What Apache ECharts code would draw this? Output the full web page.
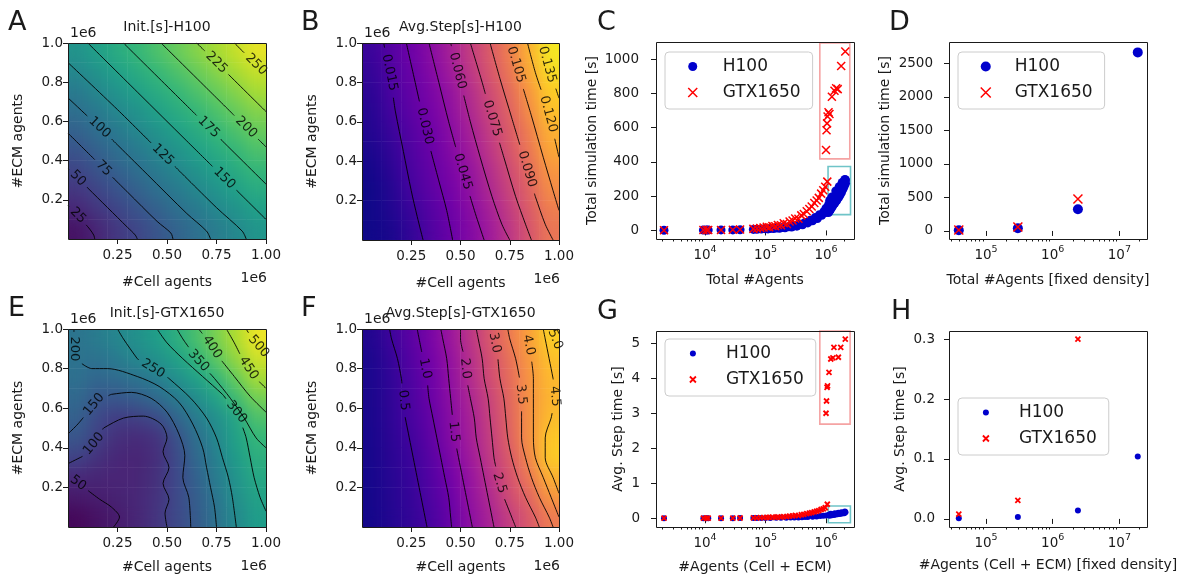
<!DOCTYPE html>
<html>
<head>
<meta charset="utf-8">
<title>H100 vs GTX1650 scaling</title>
<script src="https://cdn.jsdelivr.net/npm/echarts@6.0.0/dist/echarts.min.js"></script>
<style>
  html, body { margin: 0; padding: 0; background: #fff; }
  #page { position: relative; width: 1187px; height: 579px; }
  #fig { position: absolute; left: 0; top: 0; width: 1187px; height: 579px; z-index: 2; }
  .heat { position: absolute; z-index: 1; filter: url(#smooth); }
</style>
</head>
<body>
<!-- soften the 10x10 cells the way imshow's interpolation does -->
<svg width="0" height="0" style="position:absolute">
  <filter id="smooth" x="0" y="0" width="100%" height="100%" color-interpolation-filters="sRGB">
    <feGaussianBlur in="SourceGraphic" stdDeviation="8" result="blur"/>
    <feComponentTransfer in="blur" result="solid"><feFuncA type="linear" slope="1000"/></feComponentTransfer>
    <feComposite in="solid" in2="SourceGraphic" operator="in"/>
  </filter>
</svg>
<div id="page"><div id="fig"></div></div>
<script>
// ---------- values ----------

// heat maps: 10 x 10 cells (centres 0.05 .. 0.95 x1e6), rows from ECM 0.95e6 (top) down to 0.05e6
var initH100 = [
  [137, 151, 164, 178, 191, 205, 218, 232, 245, 259],
  [124, 137, 151, 164, 178, 191, 205, 218, 232, 245],
  [110, 124, 137, 151, 164, 178, 191, 205, 218, 232],
  [97, 110, 124, 137, 151, 164, 178, 191, 205, 218],
  [83, 97, 110, 124, 137, 151, 164, 178, 191, 205],
  [70, 83, 97, 110, 124, 137, 151, 164, 178, 191],
  [56, 70, 83, 97, 110, 124, 137, 151, 164, 178],
  [43, 56, 70, 83, 97, 110, 124, 137, 151, 164],
  [29, 43, 56, 70, 83, 97, 110, 124, 137, 151],
  [14, 28, 44, 57, 71, 85, 98, 112, 125, 139]
];
var stepH100 = [
  [0.013, 0.022, 0.031, 0.041, 0.054, 0.069, 0.084, 0.101, 0.122, 0.142],
  [0.011, 0.020, 0.029, 0.039, 0.051, 0.066, 0.081, 0.097, 0.118, 0.138],
  [0.009, 0.018, 0.027, 0.036, 0.046, 0.061, 0.076, 0.092, 0.111, 0.132],
  [0.007, 0.016, 0.025, 0.034, 0.044, 0.058, 0.073, 0.088, 0.107, 0.128],
  [0.006, 0.013, 0.022, 0.031, 0.041, 0.054, 0.069, 0.084, 0.101, 0.122],
  [0.004, 0.011, 0.020, 0.029, 0.039, 0.051, 0.066, 0.081, 0.097, 0.118],
  [0.002, 0.009, 0.018, 0.027, 0.036, 0.046, 0.061, 0.076, 0.092, 0.111],
  [0.001, 0.007, 0.016, 0.025, 0.034, 0.044, 0.058, 0.073, 0.088, 0.107],
  [0.001, 0.006, 0.013, 0.022, 0.031, 0.041, 0.054, 0.069, 0.084, 0.101],
  [0.001, 0.004, 0.011, 0.020, 0.029, 0.039, 0.051, 0.066, 0.081, 0.097]
];
var initGTX = [
  [205, 222, 245, 268, 295, 330, 372, 418, 462, 512],
  [203, 200, 222, 247, 268, 300, 345, 392, 440, 488],
  [195, 176, 186, 205, 228, 262, 300, 348, 402, 455],
  [180, 146, 146, 160, 185, 218, 258, 302, 362, 415],
  [165, 120, 100, 104, 125, 172, 220, 262, 310, 378],
  [145, 104, 76, 68, 82, 136, 195, 246, 300, 352],
  [110, 80, 62, 58, 75, 125, 180, 232, 290, 332],
  [65, 60, 58, 60, 78, 120, 168, 220, 272, 316],
  [42, 48, 55, 62, 82, 120, 160, 210, 262, 304],
  [15, 30, 45, 60, 85, 120, 155, 200, 250, 292]
];
var stepGTX = [
  [0.20, 0.50, 0.86, 1.25, 1.72, 2.28, 2.88, 3.50, 4.06, 4.70],
  [0.15, 0.42, 0.77, 1.17, 1.61, 2.17, 2.75, 3.33, 3.94, 4.50],
  [0.14, 0.38, 0.69, 1.09, 1.56, 2.11, 2.69, 3.25, 3.86, 4.40],
  [0.13, 0.36, 0.65, 1.05, 1.50, 2.00, 2.56, 3.17, 3.83, 4.36],
  [0.12, 0.35, 0.61, 0.96, 1.45, 1.90, 2.50, 3.12, 3.83, 4.44],
  [0.11, 0.32, 0.54, 0.89, 1.39, 1.86, 2.44, 3.07, 3.83, 4.60],
  [0.10, 0.30, 0.48, 0.82, 1.28, 1.77, 2.36, 2.94, 3.70, 4.65],
  [0.09, 0.27, 0.45, 0.75, 1.17, 1.64, 2.21, 2.80, 3.43, 4.30],
  [0.08, 0.25, 0.42, 0.69, 1.06, 1.60, 2.07, 2.69, 3.14, 3.92],
  [0.07, 0.23, 0.39, 0.62, 1.00, 1.50, 1.95, 2.45, 2.92, 3.50]
];

// contour levels, traced paths [cells, ecm] (x1e6) and inline label spots
var initH100Levels = [25, 50, 75, 100, 125, 150, 175, 200, 225, 250];
var initH100Paths = [
  [[0, 0.17], [0.06, 0.11], [0.11, 0.05], [0.13, 0.02], [0.135, 0]],
  [[0, 0.36], [0.1, 0.26], [0.2, 0.16], [0.3, 0.06], [0.34, 0.02], [0.35, 0]],
  [[0, 0.54], [0.15, 0.39], [0.3, 0.24], [0.45, 0.09], [0.52, 0.03], [0.53, 0]],
  [[0, 0.72], [0.2, 0.53], [0.4, 0.33], [0.6, 0.13], [0.7, 0.04], [0.72, 0]],
  [[0, 0.9], [0.25, 0.66], [0.5, 0.41], [0.75, 0.16], [0.88, 0.04], [0.9, 0]],
  [[0.1, 1], [0.35, 0.75], [0.6, 0.5], [0.85, 0.25], [1, 0.1]],
  [[0.28, 1], [0.5, 0.78], [0.75, 0.53], [1, 0.28]],
  [[0.47, 1], [0.7, 0.77], [0.9, 0.57], [1, 0.47]],
  [[0.65, 1], [0.8, 0.85], [1, 0.65]],
  [[0.84, 1], [0.95, 0.89], [1, 0.84]]
];
var initH100LabelAt = [[0.05, 0.12], [0.05, 0.31], [0.18, 0.36], [0.16, 0.57], [0.48, 0.43],
  [0.79, 0.31], [0.71, 0.57], [0.9, 0.57], [0.75, 0.9], [0.95, 0.89]];

var stepH100Levels = [0.015, 0.030, 0.045, 0.060, 0.075, 0.090, 0.105, 0.120, 0.135];
var stepH100Paths = [
  [[0.11, 1], [0.14, 0.85], [0.17, 0.65], [0.21, 0.45], [0.25, 0.25], [0.28, 0.12], [0.31, 0]],
  [[0.225, 1], [0.27, 0.8], [0.31, 0.62], [0.35, 0.45], [0.39, 0.3], [0.43, 0.15], [0.46, 0]],
  [[0.34, 1], [0.39, 0.8], [0.44, 0.6], [0.49, 0.42], [0.54, 0.25], [0.58, 0.12], [0.62, 0]],
  [[0.45, 1], [0.5, 0.8], [0.55, 0.6], [0.6, 0.42], [0.66, 0.22], [0.71, 0.08], [0.75, 0]],
  [[0.55, 1], [0.61, 0.8], [0.66, 0.62], [0.72, 0.42], [0.78, 0.22], [0.83, 0.08], [0.86, 0]],
  [[0.65, 1], [0.7, 0.82], [0.76, 0.62], [0.82, 0.42], [0.88, 0.22], [0.93, 0.08], [0.97, 0]],
  [[0.75, 1], [0.8, 0.83], [0.86, 0.63], [0.92, 0.42], [0.97, 0.25], [1, 0.15]],
  [[0.84, 1], [0.88, 0.85], [0.93, 0.7], [0.97, 0.55], [1, 0.42]],
  [[0.91, 1], [0.94, 0.89], [0.98, 0.78], [1, 0.72]]
];
var stepH100LabelAt = [[0.14, 0.85], [0.33, 0.58], [0.52, 0.35], [0.49, 0.86], [0.67, 0.62],
  [0.84, 0.36], [0.78, 0.89], [0.95, 0.64], [0.94, 0.89]];

var initGTXLevels = [50, 100, 150, 200, 250, 300, 350, 400, 450, 500];
var initGTXPaths = [
  [[0, 0.26], [0.08, 0.2], [0.16, 0.14], [0.22, 0.1], [0.26, 0.05], [0.23, 0]],
  [[0, 0.32], [0.08, 0.36], [0.13, 0.42], [0.18, 0.5], [0.28, 0.55], [0.38, 0.56], [0.47, 0.52], [0.5, 0.45],
    [0.48, 0.38], [0.51, 0.3], [0.48, 0.22], [0.51, 0.14], [0.49, 0.07], [0.5, 0]],
  [[0, 0.47], [0.05, 0.52], [0.1, 0.58], [0.15, 0.64], [0.22, 0.67], [0.32, 0.68], [0.42, 0.65], [0.5, 0.58],
    [0.56, 0.47], [0.59, 0.36], [0.58, 0.25], [0.61, 0.15], [0.62, 0]],
  [[0.03, 1], [0.03, 0.9], [0.06, 0.83], [0.12, 0.8], [0.2, 0.8], [0.35, 0.76], [0.46, 0.71], [0.56, 0.63],
    [0.63, 0.52], [0.68, 0.4], [0.7, 0.3], [0.72, 0.2], [0.74, 0.1], [0.75, 0]],
  [[0.25, 1], [0.28, 0.95], [0.35, 0.85], [0.51, 0.75], [0.62, 0.65], [0.7, 0.55], [0.75, 0.45], [0.78, 0.35],
    [0.81, 0.25], [0.83, 0.15], [0.85, 0]],
  [[0.45, 1], [0.5, 0.93], [0.58, 0.85], [0.68, 0.76], [0.78, 0.67], [0.86, 0.57], [0.9, 0.45], [0.92, 0.35],
    [0.94, 0.25], [0.97, 0.15], [1, 0.08]],
  [[0.55, 1], [0.58, 0.95], [0.65, 0.85], [0.74, 0.75], [0.82, 0.65], [0.89, 0.55], [0.95, 0.45], [1, 0.4]],
  [[0.66, 1], [0.7, 0.95], [0.76, 0.86], [0.84, 0.76], [0.92, 0.66], [1, 0.58]],
  [[0.8, 1], [0.84, 0.93], [0.88, 0.85], [0.94, 0.76], [1, 0.7]],
  [[0.9, 1], [0.93, 0.95], [1, 0.87]]
];
var initGTXLabelAt = [[0.05, 0.22], [0.13, 0.42], [0.13, 0.62], [0.03, 0.9], [0.43, 0.8],
  [0.85, 0.58], [0.66, 0.84], [0.73, 0.91], [0.91, 0.8], [0.96, 0.91]];

var stepGTXLevels = [0.5, 1.0, 1.5, 2.0, 2.5, 3.0, 3.5, 4.0, 4.5, 5.0];
var stepGTXPaths = [
  [[0.14, 1], [0.15, 0.95], [0.18, 0.85], [0.2, 0.75], [0.21, 0.65], [0.22, 0.55], [0.24, 0.45], [0.26, 0.35], [0.28, 0.25], [0.3, 0.15], [0.32, 0.05], [0.33, 0]],
  [[0.28, 1], [0.29, 0.95], [0.31, 0.85], [0.33, 0.75], [0.34, 0.65], [0.36, 0.55], [0.38, 0.45], [0.4, 0.35], [0.42, 0.25], [0.44, 0.15], [0.45, 0.05], [0.455, 0]],
  [[0.4, 1], [0.41, 0.95], [0.43, 0.85], [0.44, 0.75], [0.45, 0.65], [0.46, 0.55], [0.47, 0.45], [0.49, 0.35], [0.51, 0.25], [0.53, 0.15], [0.55, 0.05], [0.56, 0]],
  [[0.5, 1], [0.5, 0.95], [0.52, 0.85], [0.53, 0.75], [0.55, 0.65], [0.57, 0.55], [0.58, 0.45], [0.6, 0.35], [0.62, 0.25], [0.64, 0.15], [0.66, 0.05], [0.67, 0]],
  [[0.58, 1], [0.59, 0.95], [0.61, 0.85], [0.62, 0.75], [0.64, 0.65], [0.65, 0.55], [0.66, 0.45], [0.67, 0.35], [0.69, 0.25], [0.72, 0.15], [0.76, 0.05], [0.78, 0]],
  [[0.66, 1], [0.67, 0.95], [0.69, 0.85], [0.7, 0.75], [0.72, 0.65], [0.73, 0.55], [0.74, 0.45], [0.76, 0.35], [0.79, 0.25], [0.83, 0.15], [0.88, 0.05], [0.9, 0]],
  [[0.74, 1], [0.75, 0.95], [0.78, 0.85], [0.8, 0.75], [0.81, 0.65], [0.81, 0.55], [0.81, 0.45], [0.83, 0.35], [0.86, 0.25], [0.9, 0.15], [0.95, 0.05], [0.97, 0]],
  [[0.83, 1], [0.84, 0.95], [0.86, 0.85], [0.87, 0.75], [0.87, 0.65], [0.87, 0.55], [0.87, 0.45], [0.88, 0.35], [0.92, 0.25], [0.96, 0.15], [1, 0.05]],
  [[0.92, 1], [0.93, 0.95], [0.95, 0.85], [0.97, 0.75], [0.98, 0.65], [0.96, 0.55], [0.93, 0.45], [0.93, 0.35], [0.97, 0.25], [1, 0.17]],
  [[0.97, 1], [0.98, 0.95], [1, 0.9]]
];
var stepGTXLabelAt = [[0.21, 0.64], [0.32, 0.8], [0.46, 0.48], [0.52, 0.8], [0.69, 0.22],
  [0.67, 0.93], [0.81, 0.67], [0.85, 0.92], [0.98, 0.66], [0.985, 0.95]];

// scatter panels: [total agents, seconds]
var totalH100 = [[2.1e3, 1], [9.4e3, 2], [1.05e4, 2], [1.13e4, 2], [1.84e4, 3], [2.88e4, 3], [3.8e4, 4],
  [6.3e4, 6], [7.2e4, 7], [8.5e4, 8], [1.0e5, 10], [1.1e5, 9], [1.2e5, 12], [1.35e5, 11], [1.5e5, 14],
  [1.7e5, 13], [1.9e5, 17], [2.1e5, 16], [2.4e5, 21], [2.7e5, 20], [3.0e5, 28], [3.3e5, 25], [3.7e5, 36],
  [4.1e5, 33], [4.5e5, 47], [5.0e5, 44], [5.5e5, 60], [6.0e5, 56], [6.6e5, 75], [7.2e5, 70], [7.8e5, 92],
  [8.5e5, 88], [9.2e5, 110], [1.0e6, 105], [1.0e6, 130], [1.08e6, 115], [1.1e6, 150], [1.15e6, 130],
  [1.2e6, 170], [1.25e6, 150], [1.3e6, 185], [1.35e6, 165], [1.4e6, 200], [1.5e6, 215], [1.55e6, 195],
  [1.6e6, 230], [1.7e6, 245], [1.75e6, 230], [1.8e6, 260], [1.9e6, 272], [2.0e6, 285], [2.1e6, 295],
  [1.1e6, 105], [1.15e6, 115], [1.2e6, 125], [1.25e6, 135], [1.3e6, 145], [1.4e6, 160], [1.5e6, 175],
  [1.6e6, 190], [1.7e6, 205], [1.8e6, 222], [1.9e6, 240], [2.0e6, 258], [2.1e6, 275], [1.15e6, 175],
  [1.25e6, 195], [1.45e6, 230], [1.65e6, 255], [1.85e6, 280], [2.05e6, 298]];
var totalGTX = [[2.1e3, 1], [9.4e3, 2], [1.05e4, 2], [1.13e4, 3], [1.84e4, 3], [2.88e4, 4], [3.8e4, 5],
  [6.3e4, 9], [7.2e4, 11], [8.2e4, 14], [9.3e4, 17], [1.05e5, 21], [1.15e5, 19], [1.3e5, 26], [1.45e5, 24],
  [1.6e5, 32], [1.8e5, 30], [2.0e5, 42], [2.25e5, 38], [2.5e5, 52], [2.8e5, 58], [3.1e5, 70], [3.5e5, 68],
  [3.9e5, 88], [4.3e5, 96], [4.8e5, 112], [5.3e5, 125], [5.8e5, 140], [6.4e5, 160], [7.0e5, 175],
  [7.6e5, 190], [8.3e5, 215], [9.0e5, 235], [9.7e5, 255], [1.05e6, 285],
  [1.0e6, 470], [1.02e6, 585], [1.04e6, 625], [1.06e6, 665], [1.1e6, 690], [1.14e6, 680], [1.25e6, 780],
  [1.38e6, 815], [1.47e6, 830], [1.56e6, 825], [1.78e6, 960], [2.08e6, 1045]];
var stepH100pts = [[2.1e3, 0.001], [9.4e3, 0.002], [1.05e4, 0.002], [1.13e4, 0.002], [1.84e4, 0.003],
  [2.88e4, 0.003], [3.8e4, 0.004], [6.3e4, 0.005], [7.2e4, 0.006], [8.5e4, 0.007], [1e5, 0.008],
  [1.2e5, 0.009], [1.5e5, 0.011], [1.8e5, 0.013], [2.2e5, 0.015], [2.6e5, 0.018], [3e5, 0.021],
  [3.5e5, 0.025], [4e5, 0.029], [4.5e5, 0.033], [5e5, 0.037], [6e5, 0.045], [7e5, 0.053], [8e5, 0.062],
  [9e5, 0.07], [1e6, 0.08], [1.1e6, 0.09], [1.15e6, 0.105], [1.2e6, 0.1], [1.3e6, 0.115], [1.4e6, 0.12],
  [1.5e6, 0.13], [1.6e6, 0.135], [1.7e6, 0.14], [1.8e6, 0.15], [1.9e6, 0.155], [2.0e6, 0.16], [2.1e6, 0.17],
  [1.15e6, 0.07], [1.25e6, 0.085], [1.35e6, 0.095], [1.45e6, 0.105], [1.55e6, 0.115], [1.7e6, 0.125],
  [1.85e6, 0.135], [2.0e6, 0.145], [1.2e6, 0.13], [1.4e6, 0.145], [1.6e6, 0.16], [1.8e6, 0.17], [2.05e6, 0.19]];
var stepGTXpts = [[2.1e3, 0.002], [9.4e3, 0.003], [1.05e4, 0.003], [1.13e4, 0.004], [1.84e4, 0.005],
  [2.88e4, 0.006], [3.8e4, 0.007], [6.3e4, 0.011], [7.2e4, 0.013], [8.2e4, 0.016], [9.3e4, 0.02],
  [1.05e5, 0.024], [1.15e5, 0.022], [1.3e5, 0.03], [1.45e5, 0.028], [1.6e5, 0.037], [1.8e5, 0.035],
  [2.0e5, 0.048], [2.25e5, 0.044], [2.5e5, 0.06], [2.8e5, 0.067], [3.1e5, 0.08], [3.5e5, 0.078],
  [3.9e5, 0.1], [4.3e5, 0.11], [4.8e5, 0.13], [5.3e5, 0.145], [5.8e5, 0.16], [6.4e5, 0.185], [7.0e5, 0.2],
  [7.6e5, 0.22], [8.3e5, 0.25], [9.0e5, 0.27], [9.7e5, 0.3], [1.05e6, 0.4],
  [1.0e6, 3.0], [1.02e6, 3.35], [1.04e6, 3.74], [1.06e6, 3.78], [1.12e6, 4.17], [1.2e6, 4.55],
  [1.3e6, 4.58], [1.35e6, 4.88], [1.6e6, 4.6], [1.75e6, 4.88], [2.08e6, 5.12]];

var fixedAgents = [3.9e4, 3.0e5, 2.39e6, 1.89e7];
var fixedTotalH100 = [10, 40, 325, 2665];
var fixedTotalGTX = [15, 60, 478];
var fixedStepH100 = [0.001, 0.003, 0.014, 0.104];
var fixedStepGTX = [0.008, 0.031, 0.300];

// highlight boxes [x0, y0, x1, y1]
var totalBoxGTX = [7.9e5, 418, 2.47e6, 1095];
var totalBoxH100 = [1.08e6, 92, 2.54e6, 373];
var stepBoxGTX = [7.9e5, 2.69, 2.5e6, 5.35];
var stepBoxH100 = [1.09e6, -0.13, 2.53e6, 0.35];

// ticks
var cellTicks = [0.25, 0.5, 0.75, 1.0];
var ecmTicks = [0.2, 0.4, 0.6, 0.8, 1.0];
var agentDecades = [1e4, 1e5, 1e6];
var agentMinor = [2e3, 3e3, 4e3, 5e3, 6e3, 7e3, 8e3, 9e3, 2e4, 3e4, 4e4, 5e4, 6e4, 7e4, 8e4, 9e4,
  2e5, 3e5, 4e5, 5e5, 6e5, 7e5, 8e5, 9e5, 2e6];
var fixedDecades = [1e5, 1e6, 1e7];
var fixedMinor = [3e4, 4e4, 5e4, 6e4, 7e4, 8e4, 9e4, 2e5, 3e5, 4e5, 5e5, 6e5, 7e5, 8e5, 9e5,
  2e6, 3e6, 4e6, 5e6, 6e6, 7e6, 8e6, 9e6, 2e7];
var totalTicks = [0, 200, 400, 600, 800, 1000];
var fixedTotalTicks = [0, 500, 1000, 1500, 2000, 2500];
var stepTicks = [0, 1, 2, 3, 4, 5];
var fixedStepTicks = [0, 0.1, 0.2, 0.3];

// ---------- drawing ----------
var FONT = 'DejaVu Sans', INK = '#1a1a1a', BLUE = '#0000cc', RED = '#ff0000';
var PINK = '#f5a3a3', TEAL = '#6fc4c8';
var VIRIDIS = ['#440154', '#482878', '#3e4989', '#31688e', '#26828e', '#1f9e89', '#35b779', '#6ece58', '#b5de2b', '#fde725'];
var PLASMA = ['#0d0887', '#46039f', '#7201a8', '#9c179e', '#bd3786', '#d8576b', '#ed7953', '#fb9f3a', '#fdca26', '#f0f921'];
var X_MARK = 'path://M0,0L10,10M10,0L0,10';
var cellIdx = ['0', '1', '2', '3', '4', '5', '6', '7', '8', '9'];

var grids = [], xAxes = [], yAxes = [], series = [], legends = [], graphics = [];
var heatLayers = [];

function addGrid(b) {
  grids.push({left: b[0], top: b[1], width: b[2], height: b[3], containLabel: false, outerBoundsMode: 'none'});
  return grids.length - 1;
}
function text(x, y, s, size, align) {
  graphics.push({type: 'text', x: x, y: y, z: 100, silent: true,
    style: {text: s, fontFamily: FONT, fontSize: size, fill: INK, align: align || 'center', verticalAlign: 'middle'}});
}
function frame(b) {
  graphics.push({type: 'rect', z: 100, silent: true,
    shape: {x: b[0] + 0.5, y: b[1] + 0.5, width: b[2], height: b[3]},
    style: {fill: 'none', stroke: INK, lineWidth: 1}});
}
function fixed(d) { return function (v) { return (+v).toFixed(d); }; }
function pow10(v) { return '{b|10}{s|' + Math.round(Math.log(v) / Math.LN10) + '}'; }
var SUP = {
  b: {fontFamily: FONT, fontSize: 13.5, color: INK, lineHeight: 20},
  s: {fontFamily: FONT, fontSize: 9.5, color: INK, lineHeight: 10, verticalAlign: 'top'}
};

function axis(o) {
  return {
    type: o.type || 'value', gridIndex: o.grid, min: o.min, max: o.max, logBase: 10,
    name: o.name || '', nameLocation: 'middle', nameGap: o.gap || 0,
    nameTextStyle: {fontFamily: FONT, fontSize: 14, color: INK},
    axisLine: {show: false},
    axisTick: {show: !!o.ticks, customValues: o.ticks, length: o.len || 5, lineStyle: {color: INK, width: 1}},
    axisLabel: o.fmt ? {show: true, customValues: o.ticks, formatter: o.fmt, margin: o.margin,
      fontFamily: FONT, fontSize: 13.5, color: INK, rich: o.rich, hideOverlap: false} : {show: false},
    splitLine: {show: false}
  };
}

// nearest point of a traced path to a label spot, with the local direction in screen degrees
function onPath(pts, q, b) {
  var best = null;
  for (var i = 1; i < pts.length; i++) {
    var a = pts[i - 1], c = pts[i];
    var dx = c[0] - a[0], dy = c[1] - a[1];
    var t = ((q[0] - a[0]) * dx + (q[1] - a[1]) * dy) / (dx * dx + dy * dy || 1);
    t = Math.max(0, Math.min(1, t));
    var p = [a[0] + t * dx, a[1] + t * dy];
    var d = (p[0] - q[0]) * (p[0] - q[0]) + (p[1] - q[1]) * (p[1] - q[1]);
    if (!best || d < best.d) {
      var ang = Math.atan2(dy * b[3], dx * b[2]) * 180 / Math.PI;
      if (ang > 90) ang -= 180;
      if (ang < -90) ang += 180;
      best = {d: d, p: p, ang: ang};
    }
  }
  return best;
}
// break a path where the inline label sits (gap of radius r around c)
function breakPath(pts, c, r) {
  var out = [], cur = [];
  function inside(p) { var dx = p[0] - c[0], dy = p[1] - c[1]; return dx * dx + dy * dy < r * r; }
  function at(p, q, t) { return [p[0] + t * (q[0] - p[0]), p[1] + t * (q[1] - p[1])]; }
  function hits(p, q) {
    var dx = q[0] - p[0], dy = q[1] - p[1], fx = p[0] - c[0], fy = p[1] - c[1];
    var A = dx * dx + dy * dy, B = 2 * (fx * dx + fy * dy), C = fx * fx + fy * fy - r * r;
    var disc = B * B - 4 * A * C;
    if (disc < 0 || A === 0) return null;
    disc = Math.sqrt(disc);
    return [(-B - disc) / (2 * A), (-B + disc) / (2 * A)];
  }
  for (var i = 0; i < pts.length; i++) {
    var p = pts[i];
    if (i > 0) {
      var q = pts[i - 1], qin = inside(q), pin = inside(p), t = hits(q, p);
      if (t) {
        if (!qin && pin) { cur.push(at(q, p, t[0])); out.push(cur); cur = []; }
        else if (qin && !pin) { cur = [at(q, p, t[1])]; }
        else if (!qin && !pin && t[0] > 0 && t[1] < 1) {
          cur.push(at(q, p, t[0])); out.push(cur); cur = [at(q, p, t[1])];
        }
      }
    }
    if (!inside(p)) cur.push(p);
  }
  out.push(cur);
  return out.filter(function (s) { return s.length > 1; });
}

function heatPanel(p) {
  var b = p.box;
  // colour field: its own small chart under the main one
  var cells = [];
  p.rows.forEach(function (row, r) {
    row.forEach(function (v, i) { cells.push([i, p.rows.length - 1 - r, v]); });
  });
  heatLayers.push({box: b, option: {
    animation: false,
    grid: {left: 0, top: 0, right: 0, bottom: 0, containLabel: false, outerBoundsMode: 'none'},
    xAxis: {type: 'category', data: cellIdx, show: false},
    yAxis: {type: 'category', data: cellIdx, show: false},
    visualMap: {type: 'continuous', show: false, dimension: 2, min: p.lo, max: p.hi, inRange: {color: p.cmap}},
    series: [{type: 'heatmap', data: cells, silent: true, itemStyle: {borderWidth: 0}}]
  }});

  var gv = addGrid(b);
  xAxes.push(axis({grid: gv, min: 0, max: 1, ticks: cellTicks, fmt: fixed(2), margin: 9,
    name: '#Cell agents', gap: p.xGap}));
  yAxes.push(axis({grid: gv, min: 0, max: 1, ticks: ecmTicks, fmt: fixed(1), margin: 5,
    name: '#ECM agents', gap: 43}));
  var xi = xAxes.length - 1, yi = yAxes.length - 1;

  var labels = [];
  p.levels.forEach(function (lev, k) {
    var s = lev.toFixed(p.digits);
    var spot = onPath(p.paths[k], p.labelAt[k], b);
    var r = (s.length * 0.33 * 13 + 4) / b[2];
    breakPath(p.paths[k], spot.p, r).forEach(function (piece) {
      series.push({type: 'line', xAxisIndex: xi, yAxisIndex: yi, data: piece, symbol: 'none',
        smooth: 0.3, silent: true, z: 5, lineStyle: {color: '#000', width: 0.9}});
    });
    labels.push({value: spot.p, label: {rotate: spot.ang, formatter: s}});
  });
  series.push({type: 'scatter', xAxisIndex: xi, yAxisIndex: yi, data: labels, symbolSize: 1, silent: true, z: 6,
    itemStyle: {color: 'rgba(0,0,0,0)'},
    label: {show: true, position: 'inside', fontFamily: FONT, fontSize: 13, color: '#000'}});

  frame(b);
  text(b[0] + b[2] / 2, p.titleY, p.title, 14, 'center');
  text(b[0] + 2, b[1] - 10, '1e6', 14, 'left');
  text(b[0] + b[2] + 1, b[1] + b[3] + 39.5, '1e6', 14, 'right');
  text(p.letter[0], p.letter[1], p.letter[2], 27, 'left');
}

function boxArea(r, color) {
  return {silent: true, itemStyle: {color: 'rgba(0,0,0,0)', borderColor: color, borderWidth: 1.6},
    data: [[{coord: [r[0], r[1]]}, {coord: [r[2], r[3]]}]]};
}

function scatterPanel(p) {
  var b = p.box;
  var gm = addGrid(b);
  xAxes.push(axis({grid: gm, type: 'log', min: p.xr[0], max: p.xr[1], ticks: p.minor, len: 2.5}));
  yAxes.push(axis({grid: gm, min: 0, max: 1}));
  var g = addGrid(b);
  xAxes.push(axis({grid: g, type: 'log', min: p.xr[0], max: p.xr[1], ticks: p.decades, fmt: pow10,
    rich: SUP, margin: 6, name: p.xName, gap: p.xGap}));
  yAxes.push(axis({grid: g, min: p.yr[0], max: p.yr[1], ticks: p.yTicks, fmt: p.yFmt,
    margin: p.yMargin, name: p.yName, gap: p.yGap}));
  var xi = xAxes.length - 1, yi = yAxes.length - 1;
  series.push({type: 'scatter', name: 'H100', xAxisIndex: xi, yAxisIndex: yi, data: p.h100,
    symbol: 'circle', symbolSize: p.dot, itemStyle: {color: BLUE, opacity: 1}, z: 3,
    markArea: p.boxH100 ? boxArea(p.boxH100, TEAL) : undefined});
  series.push({type: 'scatter', name: 'GTX1650', xAxisIndex: xi, yAxisIndex: yi, data: p.gtx,
    symbol: X_MARK, symbolSize: p.cross, z: 4,
    itemStyle: {color: RED, borderColor: RED, borderWidth: p.crossW, opacity: 1},
    markArea: p.boxGTX ? boxArea(p.boxGTX, PINK) : undefined});
  // marker centred ~27px in from the frame, text starting ~58px in
  var s = p.dot;
  legends.push({
    left: p.legend[0], top: p.legend[1], orient: 'vertical', selectedMode: false,
    itemWidth: s, itemHeight: s, itemGap: 9, padding: [6, 12, 8, 27 - s / 2],
    backgroundColor: 'rgba(255,255,255,0.8)', borderColor: '#cccccc', borderWidth: 1, borderRadius: 4,
    formatter: function (name) { return '{g| }' + name; },
    textStyle: {fontFamily: FONT, fontSize: 17, color: INK,
      rich: {g: {width: 66 - 27 - s / 2 - s - 5, fontSize: 17}}},
    data: [
      {name: 'H100', icon: 'circle', itemStyle: {color: BLUE, borderWidth: 0, opacity: 1}},
      {name: 'GTX1650', icon: X_MARK, itemStyle: {color: RED, borderColor: RED, borderWidth: p.crossW, opacity: 1}}
    ]
  });
  frame(b);
  text(p.letter[0], p.letter[1], p.letter[2], 27, 'left');
}

function zip(xs, ys) { return ys.map(function (y, i) { return [xs[i], y]; }); }

heatPanel({box: [68, 43, 198, 196], rows: initH100, cmap: VIRIDIS, lo: 0, hi: 268,
  levels: initH100Levels, paths: initH100Paths, labelAt: initH100LabelAt, digits: 0,
  title: 'Init.[s]-H100', titleY: 27.5, xGap: 36, letter: [8, 23, 'A']});
heatPanel({box: [362, 43, 197, 197], rows: stepH100, cmap: PLASMA, lo: 0, hi: 0.148,
  levels: stepH100Levels, paths: stepH100Paths, labelAt: stepH100LabelAt, digits: 3,
  title: 'Avg.Step[s]-H100', titleY: 27.5, xGap: 36, letter: [301, 23, 'B']});
heatPanel({box: [68, 329, 198, 198], rows: initGTX, cmap: VIRIDIS, lo: 5, hi: 525,
  levels: initGTXLevels, paths: initGTXPaths, labelAt: initGTXLabelAt, digits: 0,
  title: 'Init.[s]-GTX1650', titleY: 313, xGap: 33, letter: [8, 309, 'E']});
heatPanel({box: [362, 329, 197, 198], rows: stepGTX, cmap: PLASMA, lo: 0, hi: 5.2,
  levels: stepGTXLevels, paths: stepGTXPaths, labelAt: stepGTXLabelAt, digits: 1,
  title: 'Avg.Step[s]-GTX1650', titleY: 313, xGap: 33, letter: [301, 309, 'F']});

scatterPanel({box: [656, 42, 198, 197], xr: [1549, 2.9e6], yr: [-50, 1100],
  decades: agentDecades, minor: agentMinor, yTicks: totalTicks, yFmt: fixed(0), yMargin: 17,
  xName: 'Total #Agents', xGap: 34, yName: 'Total simulation time [s]', yGap: 57,
  h100: totalH100, gtx: totalGTX, dot: 9, cross: 8, crossW: 1.5,
  boxH100: totalBoxH100, boxGTX: totalBoxGTX, legend: [665, 52], letter: [597, 23, 'C']});
scatterPanel({box: [949, 42, 198, 197], xr: [2.78e4, 2.6e7], yr: [-120, 2820],
  decades: fixedDecades, minor: fixedMinor, yTicks: fixedTotalTicks, yFmt: fixed(0), yMargin: 16,
  xName: 'Total #Agents [fixed density]', xGap: 34, yName: 'Total simulation time [s]', yGap: 57,
  h100: zip(fixedAgents, fixedTotalH100), gtx: zip(fixedAgents, fixedTotalGTX), dot: 10, cross: 9, crossW: 1.5,
  legend: [958, 52], letter: [889, 23, 'D']});
scatterPanel({box: [656, 331, 198, 196], xr: [1549, 2.9e6], yr: [-0.25, 5.35],
  decades: agentDecades, minor: agentMinor, yTicks: stepTicks, yFmt: fixed(0), yMargin: 16,
  xName: '#Agents (Cell + ECM)', xGap: 33, yName: 'Avg. Step time [s]', yGap: 31,
  h100: stepH100pts, gtx: stepGTXpts, dot: 6, cross: 5, crossW: 1.8,
  boxH100: stepBoxH100, boxGTX: stepBoxGTX, legend: [665, 339], letter: [597, 312, 'G']});
scatterPanel({box: [949, 331, 198, 196], xr: [2.78e4, 2.6e7], yr: [-0.0135, 0.3135],
  decades: fixedDecades, minor: fixedMinor, yTicks: fixedStepTicks, yFmt: fixed(1), yMargin: 14,
  xName: '#Agents (Cell + ECM) [fixed density]', xGap: 31, yName: 'Avg. Step time [s]', yGap: 42,
  h100: zip(fixedAgents, fixedStepH100), gtx: zip(fixedAgents, fixedStepGTX), dot: 6, cross: 5, crossW: 1.8,
  legend: [958, 398], letter: [891, 312, 'H']});

var page = document.getElementById('page');
heatLayers.forEach(function (h) {
  var div = document.createElement('div');
  div.className = 'heat';
  div.style.left = h.box[0] + 'px';
  div.style.top = h.box[1] + 'px';
  div.style.width = h.box[2] + 'px';
  div.style.height = h.box[3] + 'px';
  page.insertBefore(div, page.firstChild);
  echarts.init(div, null, {renderer: 'canvas'}).setOption(h.option);
});

var chart = echarts.init(document.getElementById('fig'), null, {renderer: 'canvas'});
chart.setOption({
  animation: false,
  backgroundColor: 'transparent',
  grid: grids,
  xAxis: xAxes,
  yAxis: yAxes,
  legend: legends,
  series: series,
  graphic: graphics
});
</script>
</body>
</html>
